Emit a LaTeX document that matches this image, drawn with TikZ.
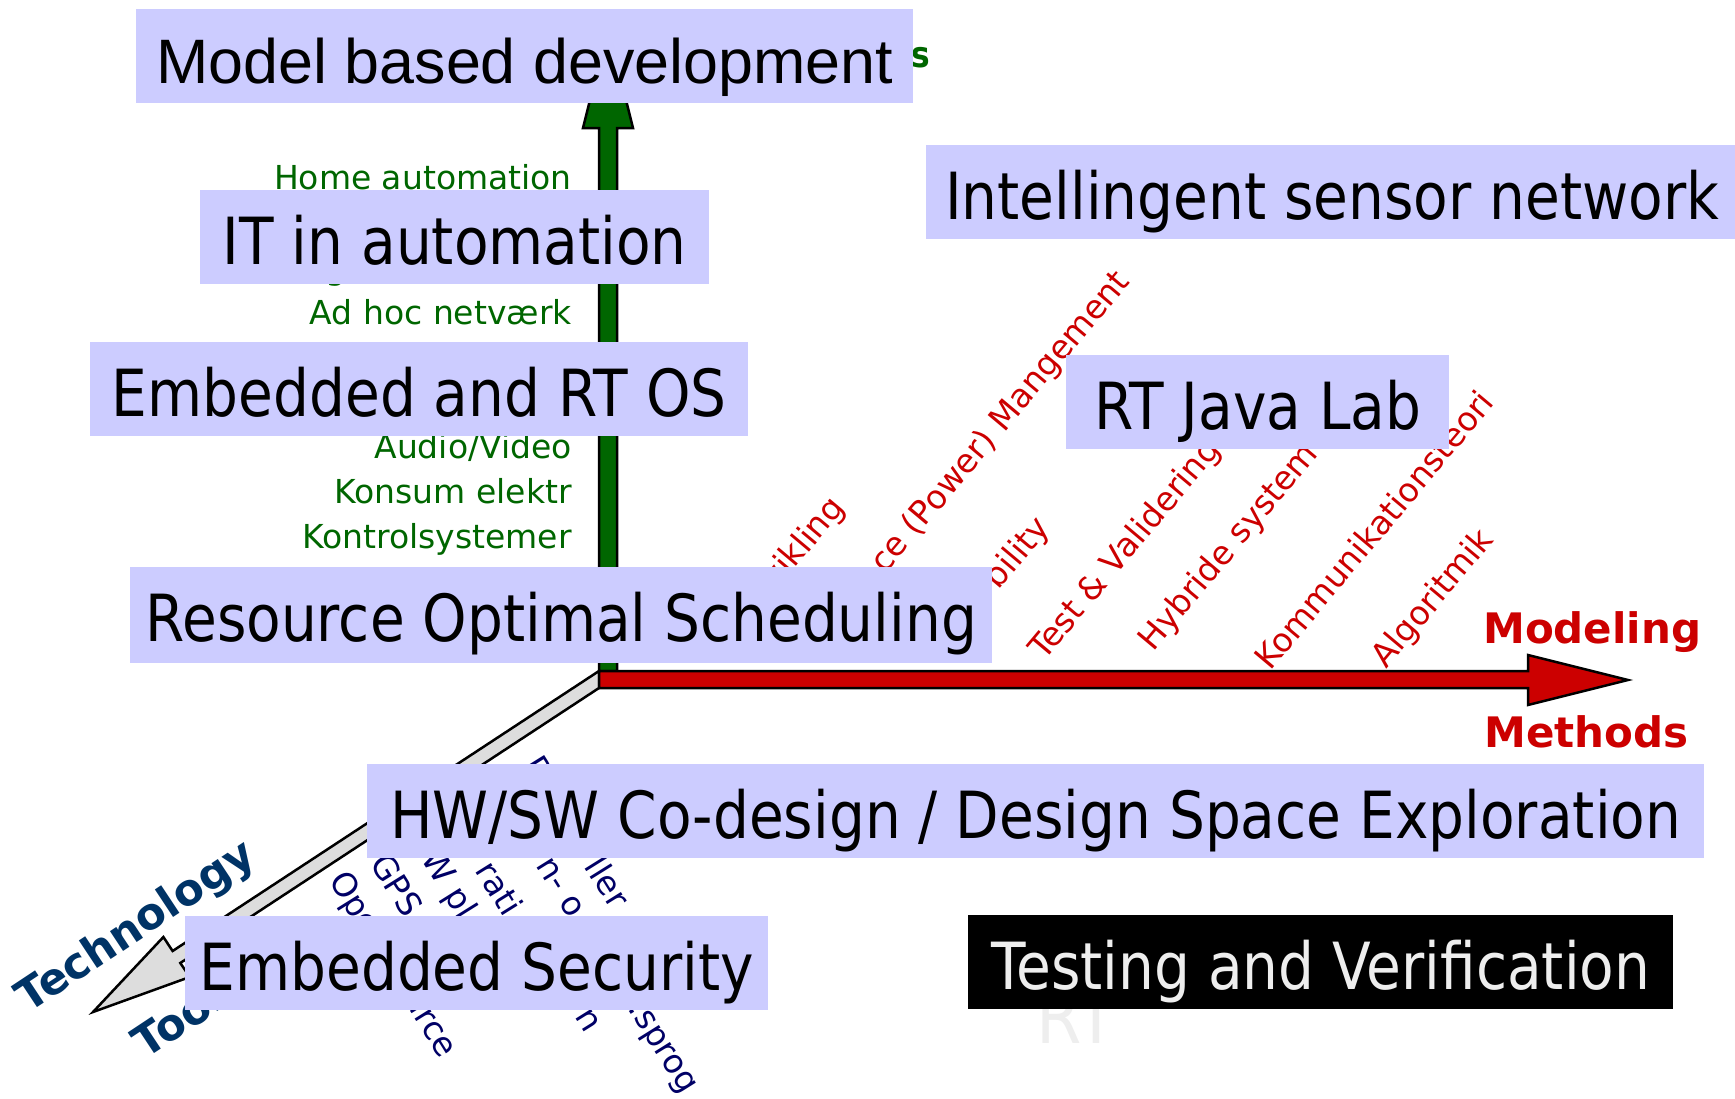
\documentclass[tikz,border=0pt]{standalone}
\usepackage{fontspec}
\setmainfont{DejaVu Sans}
\newfontfamily\boxfont[FakeStretch=0.87]{DejaVu Sans}
\newfontfamily\arialfont{Liberation Sans}
\definecolor{boxfill}{HTML}{CCCCFF}
\definecolor{agreen}{HTML}{006600}
\definecolor{ared}{HTML}{CC0000}
\definecolor{anavy}{HTML}{000066}
\definecolor{techblue}{HTML}{003366}
\definecolor{axgrey}{HTML}{DDDDDD}
\definecolor{lightgrey}{HTML}{EEEEEE}
\tikzset{
  topic/.style={fill=boxfill, inner sep=0pt, anchor=north west, text height=74pt, text depth=20pt,
    font=\boxfont\fontsize{65}{65}\selectfont},
  axisbody/.style={draw=black, line width=2.5pt, line join=miter},
  glabel/.style={text=agreen, font=\fontsize{33}{33}\selectfont, anchor=base east, inner sep=0pt},
  rlabel/.style={text=ared, font=\fontsize{33}{33}\selectfont, inner sep=0pt, rotate=50},
  blabel/.style={text=anavy, font=\fontsize{33}{33}\selectfont, inner sep=0pt, rotate=-58},
  axlabel/.style={font=\bfseries\fontsize{42}{42}\selectfont, inner sep=0pt, anchor=base west},
}
\begin{document}
\begin{tikzpicture}[x=1pt,y=-1pt]
\useasboundingbox (0,0) rectangle (1735,1098);

% technology axis (grey, pointing down-left)
\draw[axisbody, fill=axgrey] (599,671) -- (172.6,951) -- (163.4,937) -- (93,1012)
  -- (189.8,977) -- (180.3,963) -- (599,688) -- cycle;
% application axis (green, pointing up)
\draw[axisbody, fill=agreen] (599,671) -- (599,128) -- (583,128) -- (608,28)
  -- (633,128) -- (617,128) -- (617,671) -- cycle;
% methods axis (red, pointing right)
\draw[axisbody, fill=ared] (599,671) -- (1528,671) -- (1528,655) -- (1628,680)
  -- (1528,705) -- (1528,688) -- (599,688) -- cycle;

% axis titles
\node[axlabel, text=agreen, font=\boxfont\bfseries\fontsize{36}{36}\selectfont] (appl) at (911,67) {s};
\node[axlabel, text=ared] (modeling) at (1483,643) {Modeling};
\node[axlabel, text=ared] (methods) at (1484,747) {Methods};
\node[axlabel, text=techblue, rotate=33.5, font=\bfseries\fontsize{43.5}{43.5}\selectfont] (technology) at (28,1014) {Technology};
\node[axlabel, text=techblue, rotate=33.5, font=\bfseries\fontsize{43.5}{43.5}\selectfont] (tools) at (145,1060) {Tools};

% application areas
\node[glabel] (home) at (572,189) {Home automation};
\node[glabel, anchor=base west] (gtail) at (325,279.5) {g};
\node[glabel] (adhoc) at (572,324) {Ad hoc netværk};
\node[glabel] (audio) at (572,458) {Audio/Video};
\node[glabel] (konsum) at (572,503) {Konsum elektr};
\node[glabel] (kontrol) at (572,548) {Kontrolsystemer};

% methods
\node[rlabel, anchor=base east] (udv) at (846,508) {vikling};
\node[rlabel, anchor=base east] (power) at (1131,282) {ce (Power) Mangement};
\node[rlabel, anchor=base east] (sched) at (1051,528) {bility};
\node[rlabel, anchor=base west] (test) at (1044,662) {Test \& Validering};
\node[rlabel, anchor=base west] (hybrid) at (1153,653) {Hybride system};
\node[rlabel, anchor=base west] (komm) at (1270,672) {Kommunikationsteori};
\node[rlabel, anchor=base west] (algo) at (1386,670) {Algoritmik};

% technologies
\node[blabel, anchor=base west] (open) at (328,880) {Open Source};
\node[blabel] (gps) at (397,885) {GPS};
\node[blabel] (hwpl) at (448,885) {W pl};
\node[blabel] (rati) at (500,888) {rati};
\node[blabel] (rati2) at (588,1020) {n};
\node[blabel] (no) at (560,888) {n- o};
\node[blabel] (ller) at (608,882) {ller};
\node[blabel] (sprog) at (660,1049) {.sprog};
\node[blabel] (ptop) at (538,768) {P};

\node[font=\boxfont\fontsize{75}{75}\selectfont, text=lightgrey, anchor=base west, inner sep=0pt] (rt) at (1036,1043) {RT};

% research topics
\node[topic, minimum width=777pt, font=\arialfont\fontsize{62.8}{62.8}\selectfont] (mbd) at (136,9) {Model based development};
\node[topic, minimum width=509pt] (ita) at (200,190) {IT in automation};
\node[topic, minimum width=658pt] (ertos) at (90,342) {Embedded and RT OS};
\node[topic, minimum width=812pt] (isn) at (926,145) {Intellingent sensor network};
\node[topic, minimum width=383pt] (java) at (1066,355) {RT Java Lab};
\node[topic, minimum width=862pt, text depth=22pt] (ros) at (130,567) {Resource Optimal Scheduling};
\node[topic, minimum width=1337pt] (hwsw) at (367,764) {HW/SW Co-design / Design Space Exploration};
\node[topic, minimum width=583pt] (esec) at (185,916) {Embedded Security};
\node[topic, minimum width=705pt, fill=black, text=lightgrey] (tv) at (968,915) {Testing and Verification};
\end{tikzpicture}
\end{document}
